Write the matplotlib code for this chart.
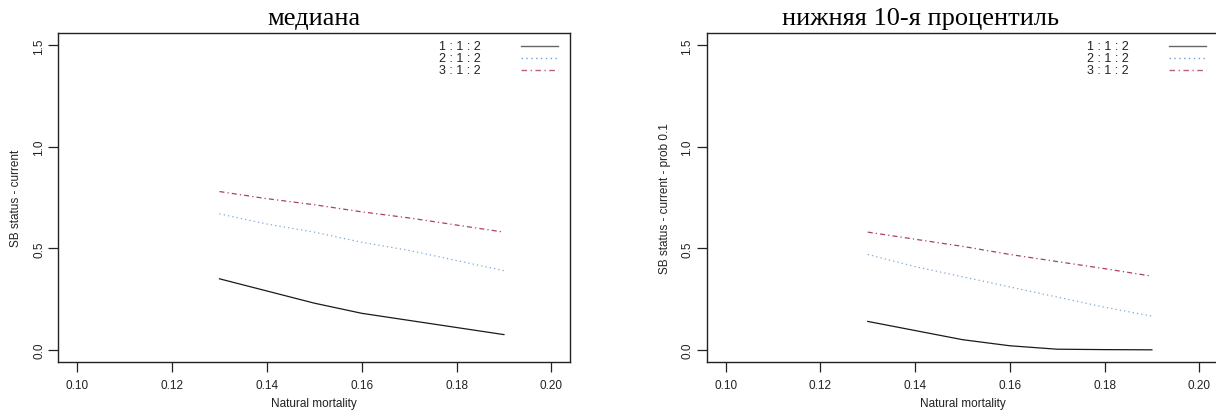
import matplotlib
matplotlib.use('Agg')
import matplotlib.pyplot as plt

# natural mortality values
m = [0.13, 0.14, 0.15, 0.16, 0.17, 0.18, 0.19]

# median SB status
med_112 = [0.35, 0.29, 0.23, 0.18, 0.145, 0.11, 0.075]
med_212 = [0.67, 0.62, 0.58, 0.53, 0.49, 0.44, 0.39]
med_312 = [0.78, 0.745, 0.715, 0.68, 0.65, 0.615, 0.58]

# lower 10th percentile
p10_112 = [0.14, 0.095, 0.05, 0.02, 0.003, 0.001, 0.0]
p10_212 = [0.47, 0.41, 0.36, 0.31, 0.26, 0.21, 0.166]
p10_312 = [0.58, 0.545, 0.51, 0.47, 0.435, 0.40, 0.363]

labels = ['1 : 1 : 2', '2 : 1 : 2', '3 : 1 : 2']
colors = ['#1a1a1a', '#7fa8d8', '#a8406e']
leg_colors = ['#666666', '#6f9fd8', '#b8608a']
styles = ['-', (0, (1, 2.5)), (0, (4, 2.5, 1, 2.5))]

plt.rcParams['font.family'] = ['Liberation Sans', 'DejaVu Sans']

fig = plt.figure(figsize=(12.16, 4.14), dpi=100)
ax1 = fig.add_axes([0.0479, 0.1232, 0.4211, 0.794])
ax2 = fig.add_axes([0.5812, 0.1232, 0.4206, 0.794])

panels = [
    (ax1, [med_112, med_212, med_312], 'медиана', 'SB status - current', 314),
    (ax2, [p10_112, p10_212, p10_312], 'нижняя 10-я процентиль', 'SB status - current - prob 0.1', 921),
]

for ax, series, title, ylab, tx in panels:
    for ys, c, ls in zip(series, colors, styles):
        ax.plot(m, ys, color=c, linestyle=ls, linewidth=0.9)
    ax.set_xlim(0.096, 0.204)
    ax.set_ylim(-0.06, 1.56)
    ax.set_xticks([0.10, 0.12, 0.14, 0.16, 0.18, 0.20])
    ax.set_xticklabels(['0.10', '0.12', '0.14', '0.16', '0.18', '0.20'])
    ax.set_yticks([0.0, 0.5, 1.0, 1.5])
    ax.set_yticklabels(['0.0', '0.5', '1.0', '1.5'], rotation=90, va='center')
    ax.tick_params(direction='out', length=7, width=0.9, labelsize=8.5,
                   colors='#222222')
    ax.tick_params(axis='y', pad=2.5)
    ax.tick_params(axis='x', pad=5)
    for sp in ax.spines.values():
        sp.set_linewidth(1.0)
        sp.set_color('#222222')
    ax.set_xlabel('Natural mortality', fontsize=8.5, color='#222222')
    ax.xaxis.set_label_coords(0.5, -0.108)
    ax.set_ylabel(ylab, fontsize=8.5, color='#222222')
    ax.yaxis.set_label_coords(-0.07, 0.5)
    fig.text(tx / 1216, 1 - 19 / 414, title, fontsize=19, ha='center', va='center',
             family='Liberation Serif')

    # legend drawn like the R version: text, then line sample
    for i, (lab, c, ls) in enumerate(zip(labels, leg_colors, styles)):
        yy = 0.962 - i * 0.037
        ax.text(0.825, yy, lab, transform=ax.transAxes, ha='right', va='center',
                fontsize=9, color='#222222')
        ax.plot([0.904, 0.976], [yy, yy], transform=ax.transAxes, color=c,
                linestyle=ls, linewidth=1.0)

fig.savefig('out.png', dpi=100)
